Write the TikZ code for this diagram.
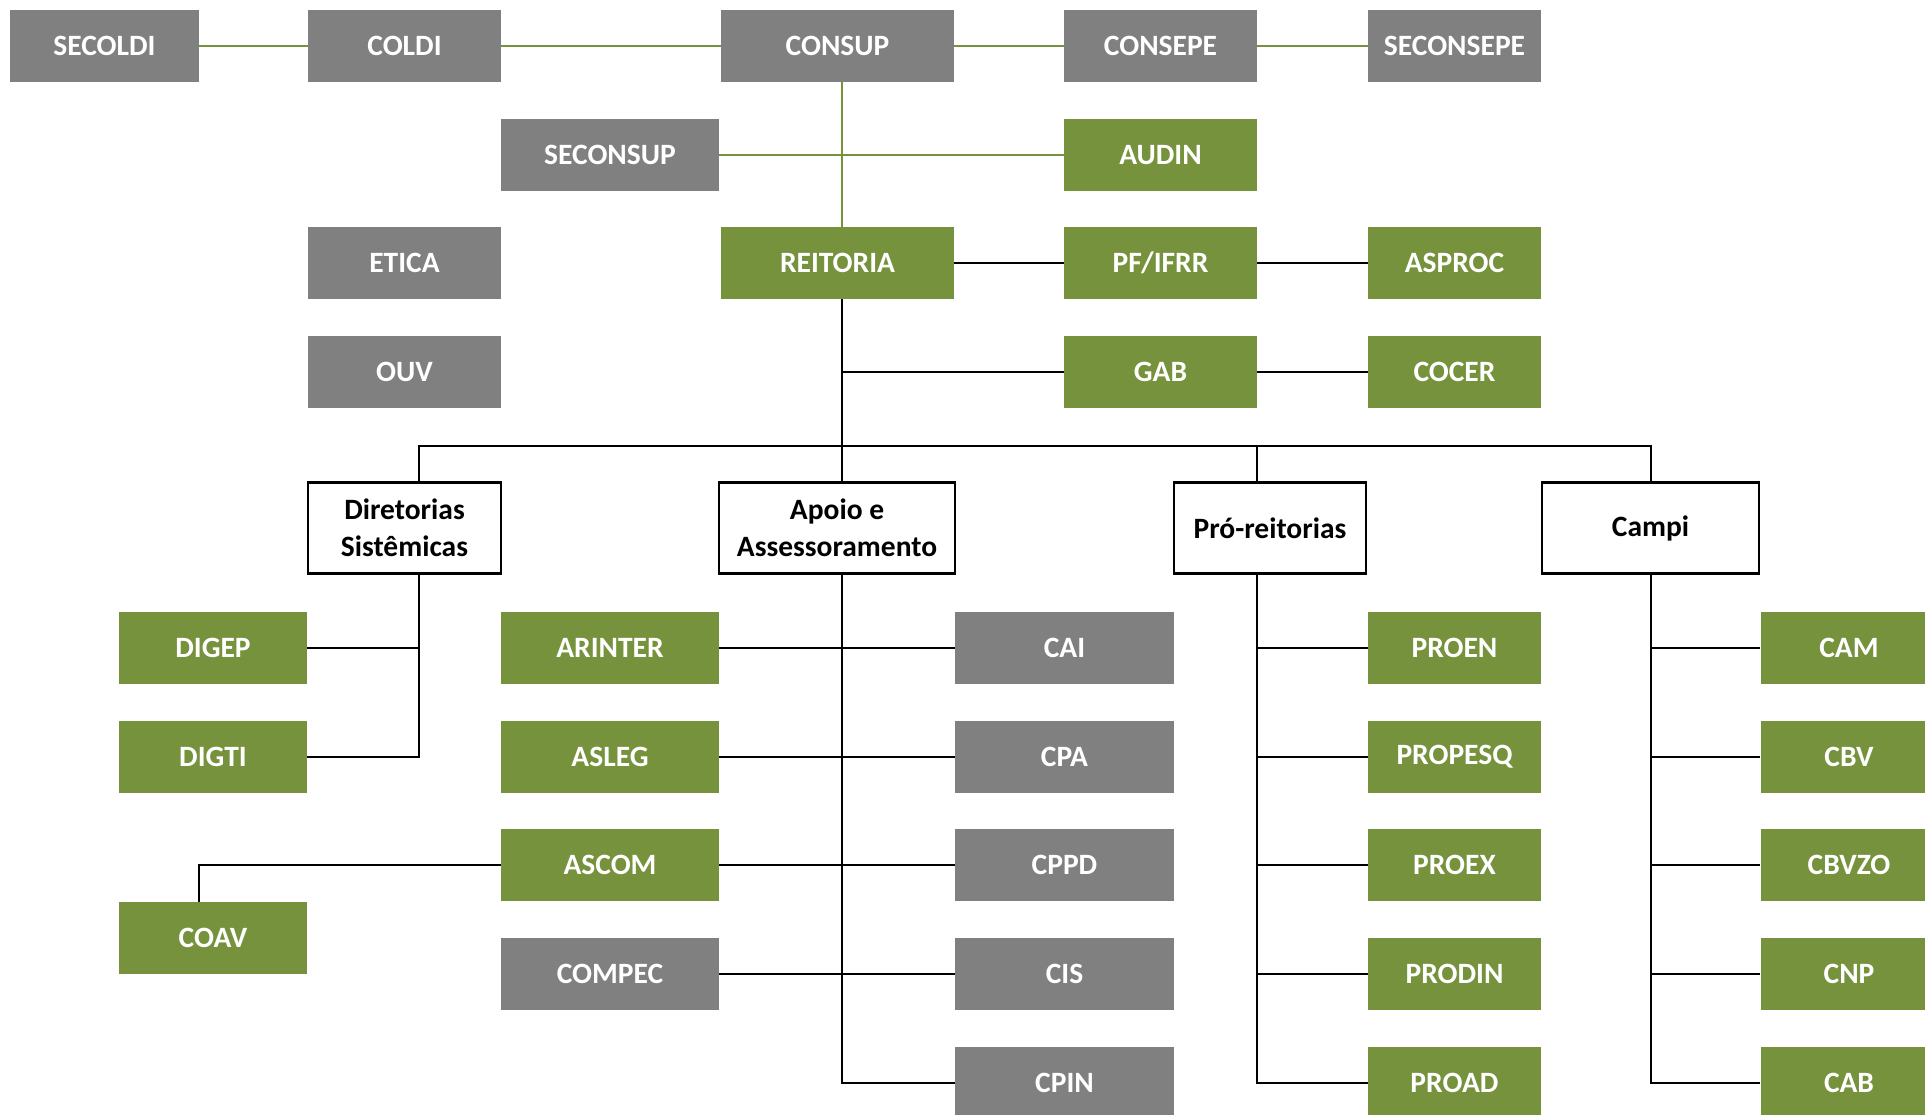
\documentclass[tikz,border=0pt]{standalone}
\usepackage{fontspec}
\setmainfont{Carlito}
\usetikzlibrary{backgrounds}
\definecolor{ogreen}{HTML}{76923C}
\definecolor{dgray}{HTML}{808080}
\tikzset{
  bx/.style={rectangle, inner sep=0pt, minimum height=72, text=white,
    font=\fontsize{29.5}{36}\selectfont\bfseries},
  gbox/.style={bx, fill=dgray},
  vbox/.style={bx, fill=ogreen},
  cbox/.style={rectangle, inner sep=0pt, minimum height=91, draw=black, line width=2.4, fill=white,
    text=black, align=center, font=\fontsize{29.5}{37}\selectfont\bfseries},
  gline/.style={draw=ogreen, line width=2},
  bline/.style={draw=black, line width=2.5},
}
\begin{document}
\begin{tikzpicture}[x=1pt,y=-1pt]
\useasboundingbox (0,0) rectangle (1925,1115);
% row 1
\node[gbox, minimum width=189] (secoldi) at (104.5,46) {SECOLDI};
\node[gbox, minimum width=193] (coldi) at (404.5,46) {COLDI};
\node[gbox, minimum width=233] (consup) at (837.5,46) {CONSUP};
\node[gbox, minimum width=193] (consepe) at (1160.5,46) {CONSEPE};
\node[gbox, minimum width=173] (seconsepe) at (1454.5,46) {SECONSEPE};
% row 2
\node[gbox, minimum width=218] (seconsup) at (610,155) {SECONSUP};
\node[vbox, minimum width=193] (audin) at (1160.5,155) {AUDIN};
% row 3
\node[gbox, minimum width=193] (etica) at (404.5,263) {ETICA};
\node[vbox, minimum width=233] (reitoria) at (837.5,263) {REITORIA};
\node[vbox, minimum width=193] (pf) at (1160.5,263) {PF/IFRR};
\node[vbox, minimum width=173] (asproc) at (1454.5,263) {ASPROC};
% row 4
\node[gbox, minimum width=193] (ouv) at (404.5,372) {OUV};
\node[vbox, minimum width=193] (gab) at (1160.5,372) {GAB};
\node[vbox, minimum width=173] (cocer) at (1454.5,372) {COCER};
% categories
\node[cbox, minimum width=193] (diret) at (404.5,528) {Diretorias\\Sistêmicas};
\node[cbox, minimum width=236] (apoio) at (837,528) {Apoio e\\Assessoramento};
\node[cbox, minimum width=192] (pro) at (1270,528) {Pró-reitorias};
\node[cbox, minimum width=217] (campi) at (1650.5,528) {Campi};
% Diretorias children
\node[vbox, minimum width=188] (digep) at (213,648) {DIGEP};
\node[vbox, minimum width=188] (digti) at (213,757) {DIGTI};
\node[vbox, minimum width=188] (coav) at (213,938) {COAV};
% Apoio children
\node[vbox, minimum width=218] (arinter) at (610,648) {ARINTER};
\node[vbox, minimum width=218] (asleg) at (610,757) {ASLEG};
\node[vbox, minimum width=218] (ascom) at (610,865) {ASCOM};
\node[gbox, minimum width=218] (compec) at (610,974) {COMPEC};
\node[gbox, minimum width=219] (cai) at (1064.5,648) {CAI};
\node[gbox, minimum width=219] (cpa) at (1064.5,757) {CPA};
\node[gbox, minimum width=219] (cppd) at (1064.5,865) {CPPD};
\node[gbox, minimum width=219] (cis) at (1064.5,974) {CIS};
\node[gbox, minimum width=219] (cpin) at (1064.5,1083) {CPIN};
% Pro-reitorias children
\node[vbox, minimum width=173] (proen) at (1454.5,648) {PROEN};
\node[vbox, minimum width=173] (propesq) at (1454.5,757) {PROPESQ};
\node[vbox, minimum width=173] (proex) at (1454.5,865) {PROEX};
\node[vbox, minimum width=173] (prodin) at (1454.5,974) {PRODIN};
\node[vbox, minimum width=173] (proad) at (1454.5,1083) {PROAD};
% Campi children
\node[vbox, minimum width=177] (cam) at (1849,648) {CAM};
\node[vbox, minimum width=177] (cbv) at (1849,757) {CBV};
\node[vbox, minimum width=177] (cbvzo) at (1849,865) {CBVZO};
\node[vbox, minimum width=177] (cnp) at (1849,974) {CNP};
\node[vbox, minimum width=177] (cab) at (1849,1083) {CAB};
% helper coordinates
\coordinate (ax) at (842,0);
\coordinate (dx) at (419,0);
\coordinate (px) at (1257,0);
\coordinate (cx) at (1651,0);
\coordinate (vx) at (199,0);
\coordinate (busy) at (0,446);
\begin{scope}[on background layer]
% green connectors
\draw[gline] (secoldi.east) -- (coldi.west);
\draw[gline] (coldi.east) -- (consup.west);
\draw[gline] (consup.east) -- (consepe.west);
\draw[gline] (consepe.east) -- (seconsepe.west);
\draw[gline] (ax |- consup.south) -- (ax |- reitoria.north);
\draw[gline] (seconsup.east) -- (audin.west);
% black connectors
\draw[bline] (reitoria.east) -- (pf.west);
\draw[bline] (pf.east) -- (asproc.west);
\draw[bline] (gab.east) -- (cocer.west);
\draw[bline] (ax |- reitoria.south) -- (ax |- apoio.north);
\draw[bline] (ax |- gab.west) -- (gab.west);
\draw[bline] (dx |- diret.north) -- (dx |- busy) -- (cx |- busy) -- (cx |- campi.north);
\draw[bline] (px |- busy) -- (px |- pro.north);
% Diretorias
\draw[bline] (dx |- diret.south) -- (dx |- digti.east) -- (digti.east);
\draw[bline] (digep.east) -- (dx |- digep.east);
% Apoio
\draw[bline] (ax |- apoio.south) -- (ax |- cpin.west) -- (cpin.west);
\draw[bline] (arinter.east) -- (cai.west);
\draw[bline] (asleg.east) -- (cpa.west);
\draw[bline] (ascom.east) -- (cppd.west);
\draw[bline] (compec.east) -- (cis.west);
\draw[bline] (ascom.west) -- (vx |- ascom.west) -- (vx |- coav.north);
% Pro-reitorias
\draw[bline] (px |- pro.south) -- (px |- proad.west) -- (proad.west);
\draw[bline] (px |- proen.west) -- (proen.west);
\draw[bline] (px |- propesq.west) -- (propesq.west);
\draw[bline] (px |- proex.west) -- (proex.west);
\draw[bline] (px |- prodin.west) -- (prodin.west);
% Campi
\draw[bline] (cx |- campi.south) -- (cx |- cab.west) -- (cab.west);
\draw[bline] (cx |- cam.west) -- (cam.west);
\draw[bline] (cx |- cbv.west) -- (cbv.west);
\draw[bline] (cx |- cbvzo.west) -- (cbvzo.west);
\draw[bline] (cx |- cnp.west) -- (cnp.west);
\end{scope}
\end{tikzpicture}
\end{document}
